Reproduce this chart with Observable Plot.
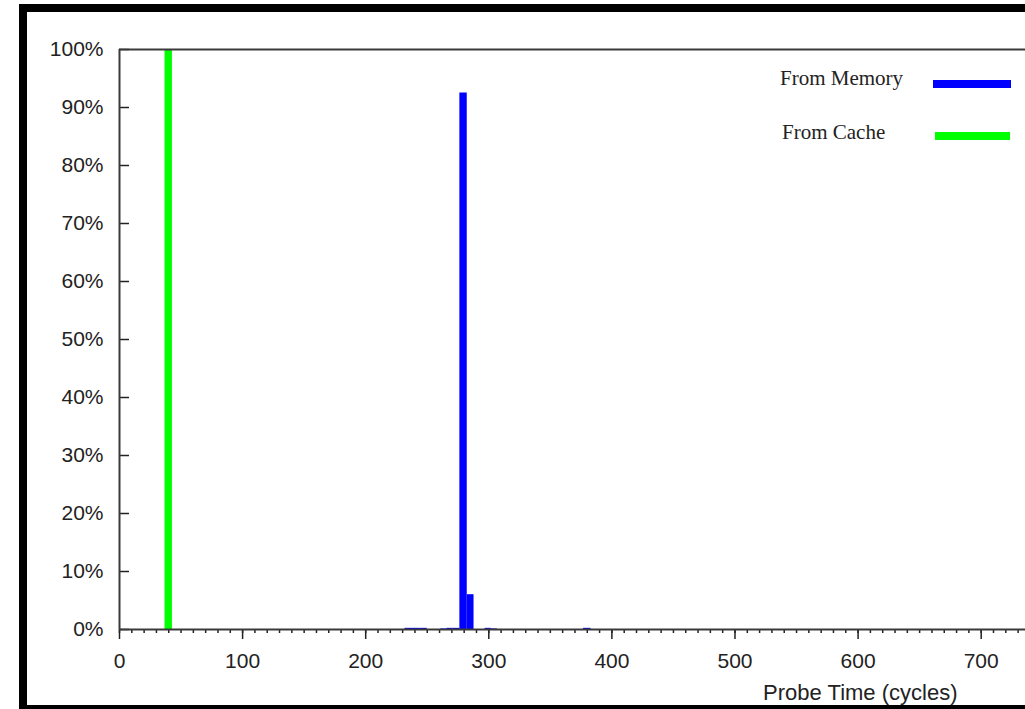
<!DOCTYPE html>
<html><head><meta charset="utf-8">
<script src="https://cdn.jsdelivr.net/npm/d3@7"></script>
<script src="https://cdn.jsdelivr.net/npm/@observablehq/plot@0.6"></script>
<style>
html,body{margin:0;padding:0;background:#fff;overflow:hidden;width:1025px;height:709px}
#wrap{position:relative;width:1025px;height:709px;overflow:hidden}
#chart{position:absolute;left:0;top:0}
#frame{position:absolute;left:19px;top:4px;width:1100px;height:709px;border:8px solid #000;box-sizing:border-box;pointer-events:none}
.leg{position:absolute;font-family:"Liberation Serif","Times New Roman",serif;font-size:21px;color:#222;line-height:21px;white-space:nowrap}
.sw{position:absolute;height:8px}
</style></head><body>
<div id="wrap">
  <div id="chart"></div>
  <div id="frame"></div>
  <div id="legend"></div>
</div>
<script>
// ---- data ----
const seriesNames = ["From Memory", "From Cache"];
const seriesColors = ["#0000ff", "#00ff00"];

// cache-hit probe-time histogram (bin edges in cycles, % of probes)
const cacheBinStart = [37];
const cacheBinEnd   = [43];
const cachePercent  = [100];

// memory probe-time histogram
const memoryBinStart = [232, 238, 244, 261, 266, 271, 276.5, 282.5, 297, 302, 377];
const memoryBinEnd   = [238, 244, 250, 266, 271, 276.5, 282.5, 288, 302, 307, 383];
const memoryPercent  = [0.2, 0.2, 0.2, 0.1, 0.2, 0.2, 92.5, 6.0, 0.2, 0.1, 0.2];

const xMajorTicks = [0, 100, 200, 300, 400, 500, 600, 700];
const xMinorTicks = d3.range(0, 740, 10);
const yTicks = [0, 10, 20, 30, 40, 50, 60, 70, 80, 90, 100];
const xLabel = "Probe Time (cycles)";

// ---- tables ----
const cache = cacheBinStart.map((s, i) => ({x1: s, x2: cacheBinEnd[i], value: cachePercent[i]}));
const memory = memoryBinStart.map((s, i) => ({x1: s, x2: memoryBinEnd[i], value: memoryPercent[i]}));

const chart = Plot.plot({
  width: 1025, height: 709,
  marginLeft: 119, marginTop: 49, marginBottom: 80, marginRight: 0,
  x: {domain: [0, 736], label: null},
  y: {domain: [0, 100], label: null},
  style: {fontFamily: '"Liberation Sans", Arial, sans-serif', fontSize: "21px", color: "#222", background: "transparent"},
  marks: [
    Plot.rectY(cache, {x1: "x1", x2: "x2", y: "value", fill: seriesColors[1]}),
    Plot.rectY(memory, {x1: "x1", x2: "x2", y: "value", fill: seriesColors[0]}),
    Plot.axisY({ticks: yTicks, tickSize: -10, tickPadding: 26, tickFormat: d => d + "%", strokeWidth: 1.5, label: null}),
    Plot.axisX({ticks: xMinorTicks, tickSize: 4, tickFormat: () => "", strokeWidth: 1.5, label: null}),
    Plot.axisX({ticks: xMajorTicks, tickSize: 10, tickPadding: 14, strokeWidth: 1.5, label: null}),
    Plot.ruleY([0, 100], {stroke: "#3a3a3a", strokeWidth: 2}),
    Plot.ruleX([0], {stroke: "#3a3a3a", strokeWidth: 2}),
    Plot.text([xLabel], {text: d => d, frameAnchor: "bottom-right", textAnchor: "end", dx: -68, dy: 70, fontSize: 22, fill: "#222"})
  ]
});
document.getElementById("chart").appendChild(chart);

// legend (inside the plot, top right)
const legendPos = [{left: 780, top: 68, swLeft: 933, swTop: 80, swW: 78}, {left: 782, top: 122, swLeft: 935, swTop: 132, swW: 75}];
const leg = document.getElementById("legend");
seriesNames.forEach((name, i) => {
  const p = legendPos[i];
  const t = document.createElement("div");
  t.className = "leg"; t.textContent = name;
  t.style.left = p.left + "px"; t.style.top = p.top + "px";
  leg.appendChild(t);
  const s = document.createElement("div");
  s.className = "sw"; s.style.background = seriesColors[i];
  s.style.left = p.swLeft + "px"; s.style.top = p.swTop + "px"; s.style.width = p.swW + "px";
  leg.appendChild(s);
});
</script>
</body></html>
